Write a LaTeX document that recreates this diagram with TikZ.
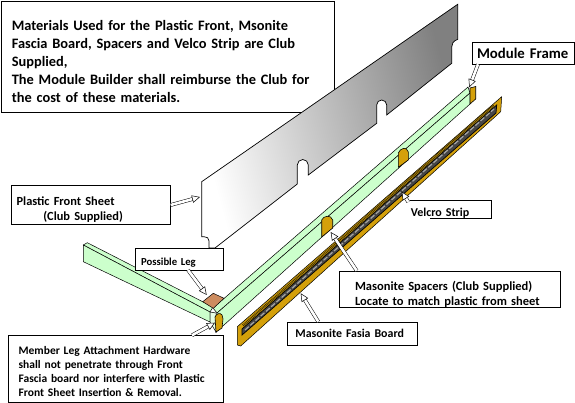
\documentclass[tikz,border=0pt]{standalone}
\usepackage{fontspec}
\setmainfont{Carlito}
\usetikzlibrary{positioning, calc, arrows.meta}
\definecolor{railgreen}{RGB}{204,255,204}
\definecolor{boardgold}{RGB}{212,160,10}
\definecolor{legbrown}{RGB}{205,140,95}
\definecolor{stripgray}{RGB}{70,70,70}

\begin{document}
\begin{tikzpicture}[x=1pt, y=-1pt, font=\bfseries,
    notebox/.style={draw=black, fill=white, line width=0.7pt, anchor=north west, align=left, inner ysep=0pt},
    hollowarrow/.style={draw=black, line width=0.5pt, double=white, double distance=2.6pt,
        -{Triangle[fill=white, length=8pt, width=7.5pt]}},
    rail/.style={draw=black, line width=0.5pt, fill=railgreen},
    spacerpart/.style={draw=black, line width=0.6pt, fill=boardgold}
]
\useasboundingbox (0,0) rectangle (575,403);

% ============ MAIN NOTE (behind the sheet) ============
\node[notebox, font=\bfseries\fontsize{14.4}{18}\selectfont, inner xsep=10.2pt, text width=312pt, minimum height=110.5pt]
  (mainnote) at (1.3,1.5) {\rule{0pt}{19.5pt}Materials Used for the Plastic Front, Msonite\\
  Fascia Board, Spacers and Velco Strip are Club\\
  Supplied,\\
  The Module Builder shall reimburse the Club for\\
  the cost of these materials.};

% ============ PLASTIC SHEET ============
\path[draw=black, line width=0.7pt, left color=white, middle color=gray!50, right color=gray, shading angle=105]
  (201.7,181.7) -- (457.7,4.3) -- (457.7,39.3) .. controls (453,41) and (451.7,44) .. (451.7,47)
  -- (451.7,63.3) -- (386.7,115) -- (386.7,105) arc[start angle=0, end angle=-180, radius=5]
  -- (376.7,123.3) -- (308.3,175) -- (308.3,165) arc[start angle=0, end angle=-180, radius=5.5]
  -- (297.3,184) -- (215,248) -- (209,248) -- (209,241) .. controls (209,238) and (207,236.7) .. (204,236.7)
  -- (201.7,236.7) -- cycle;

% ============ MODULE FRAME RAILS ============
% Left rail
\draw[rail] (83.3,245) -- (87.3,242.7) -- (213,307) -- (210,312) -- cycle;
\draw[rail] (83.3,245) -- (210,312) -- (210,322) -- (83.3,261.7) -- cycle;
% Right rail
\draw[rail] (213,308) -- (468,87) -- (470,93) -- (217,313) -- cycle;
\draw[rail] (217,313) -- (470,93) -- (470,104) -- (224,325) -- (216,332) -- cycle;
\draw[rail, fill=railgreen!50] (210,312) -- (216,313) -- (216,332) -- (210,322) -- cycle;

% Leg pad
\draw[draw=black, line width=0.5pt, fill=legbrown] (202.7,301.7) -- (213.3,293.3) -- (224,298.3) -- (213.3,308.3) -- cycle;

% Spacers
\draw[spacerpart] (215,317) .. controls (216,314) and (220,312) .. (222,315) -- (223,319) -- (222,328) -- (216,332) -- cycle;
\draw[spacerpart] (321.7,237) -- (321.7,220) .. controls (323,216) and (331,214) .. (332.7,220) -- (332.7,228) -- cycle;
\draw[spacerpart] (398.3,167.3) -- (398.3,153) .. controls (400,148) and (407,146) .. (408.3,152) -- (408.3,160) -- cycle;
\draw[spacerpart] (470,88) -- (475.7,86.5) -- (475.7,99) -- (470,104) -- cycle;

% ============ FASCIA BOARD ============
\draw[draw=black, line width=0.5pt, fill=boardgold] (237.3,326.7) -- (501.7,96.7) -- (500.7,111.7) -- (240.7,346) -- (237.3,345) -- cycle;
\draw[draw=black, line width=0.7pt, fill=stripgray] (242,329) -- (496.7,105) -- (496,113) -- (242,335) -- cycle;
\draw[gray!70, line width=1.2pt, dash pattern=on 5pt off 2pt] (245,330) -- (494,109);
\draw[black!70!boardgold, line width=2.6pt, dash pattern=on 0.8pt off 0.8pt] (243,325.5) -- (494,105);

% ============ NOTES ============
\node[notebox, font=\bfseries\fontsize{12.4}{15}\selectfont, inner xsep=5pt, text width=149pt, minimum height=39.5pt]
  (sheetnote) at (11.3,185) {\rule{0pt}{18pt}Plastic Front Sheet\\\hspace*{26.7pt}(Club Supplied)};
\node[notebox, font=\bfseries\fontsize{10.7}{11}\selectfont, inner xsep=5.4pt, text width=77pt, minimum height=21.7pt]
  (legnote) at (135.3,248.3) {\rule{0pt}{13pt}Possible Leg};
\node[notebox, font=\bfseries\fontsize{11.5}{14}\selectfont, inner xsep=10pt, text width=195pt, minimum height=66.7pt]
  (membernote) at (8.3,335.3) {\rule{0pt}{13pt}Member Leg Attachment Hardware\\
  shall not penetrate through Front\\
  Fascia board nor interfere with Plastic\\
  Front Sheet Insertion \& Removal.};
\node[notebox, font=\bfseries\fontsize{14.8}{16}\selectfont, inner xsep=5pt, text width=92pt, minimum height=22.6pt]
  (framenote) at (471.7,41.7) {Module Frame};
\node[notebox, draw=none, font=\bfseries\fontsize{12}{12}\selectfont, inner xsep=0.5pt, text width=80pt, minimum height=14.3pt]
  (velcronote) at (410,200.7) {\rule{0pt}{15pt}Velcro Strip};
\draw[line width=0.7pt] (velcronote.north west) -- (velcronote.north east) -- (velcronote.south east) -- ($(velcronote.south west)+(20,0)$);
\node[notebox, font=\bfseries\fontsize{12.5}{15}\selectfont, inner xsep=15.4pt, text width=190pt, minimum height=35.3pt]
  (spacernote) at (339.3,270.7) {\rule{0pt}{19pt}Masonite Spacers (Club Supplied)\\Locate to match plastic from sheet};
\node[notebox, font=\bfseries\fontsize{11.9}{14}\selectfont, inner xsep=7.7pt, text width=114pt, minimum height=23.6pt]
  (fascianote) at (287.3,321.7) {Masonite Fasia Board};

% ============ POINTERS ============
\coordinate (sheettip) at (200,197);
\coordinate (legtip) at (206.7,295);
\coordinate (membertip) at (215,322.7);
\coordinate (frametip) at (469.3,87.3);
\coordinate (velcrotip) at (401.7,191.7);
\coordinate (spacertip) at (330.7,232);
\coordinate (fasciatip) at (300.7,293.3);

\draw[hollowarrow] (170.7,205) -- (sheettip);
\draw[hollowarrow] (188,270) -- (legtip);
\draw[hollowarrow] (192,335.3) -- (membertip);
\draw[hollowarrow] (478,64.3) -- (frametip);
\draw[hollowarrow] (408.3,202) -- (velcrotip);
\draw[hollowarrow] (356.7,270.7) -- (spacertip);
\draw[hollowarrow] (318.3,321.7) -- (fasciatip);

\end{tikzpicture}
\end{document}
